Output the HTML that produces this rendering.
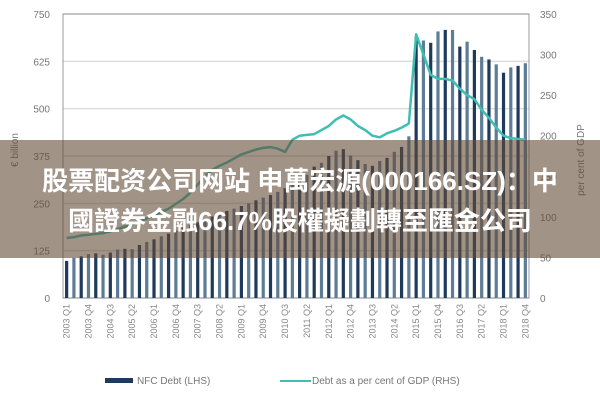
<!DOCTYPE html>
<html><head><meta charset="utf-8"><style>
body{margin:0;width:600px;height:400px;background:#fff;overflow:hidden;position:relative;font-family:"Liberation Sans",sans-serif}
svg{position:absolute;left:0;top:0}
#banner{position:absolute;left:0;top:140px;width:600px;height:118px;background:rgba(100,75,55,0.6);color:#fff;font-family:"Liberation Sans","Noto Sans CJK SC",sans-serif;font-weight:bold;font-size:26px;text-align:center;line-height:40px;padding-top:21px;box-sizing:border-box;white-space:nowrap}
</style></head><body>
<svg id="chart" width="600" height="400"></svg>
<div id="banner">股票配资公司网站 申萬宏源(000166.SZ)：中<br>國證券金融66.7%股權擬劃轉至匯金公司</div>
<script>
const quarters=[];for(let y=2003;y<=2018;y++)for(let q=1;q<=4;q++)quarters.push(y+' Q'+q);
const debtValues=[98,106,110,116,118,114,120,128,130,129,140,148,155,163,170,178,186,193,200,208,215,222,230,236,243,250,258,265,272,280,290,300,312,325,347,357,375,389,393,376,364,354,349,362,370,386,399,427,690,680,674,704,708,708,664,677,655,637,630,617,595,609,613,620];
const gdpValues=[74,75,77,78,79,80,82,85,88,91,94,98,102,106,110,116,122,130,140,150,158,163,167,172,177,180,183,185,186,184,180,195,200,201,202,207,212,220,225,220,212,207,200,198,203,206,210,215,325,300,275,270,270,268,258,250,245,232,222,210,200,197,196,195];
const leftTicks=[0,125,250,375,500,625,750];
const rightTicks=[0,50,100,150,200,250,300,350];
const NS='http://www.w3.org/2000/svg';
const svg=document.getElementById('chart');
const X0=63,X1=529,Y0=298,Y1=14;
const slot=(X1-X0)/quarters.length;
const xs=i=>X0+slot*(i+0.5);
const yL=v=>Y0-(v/750)*(Y0-Y1);
const yR=v=>Y0-(v/350)*(Y0-Y1);
function mk(t,a){const e=document.createElementNS(NS,t);for(const k in a)e.setAttribute(k,a[k]);svg.appendChild(e);return e;}
leftTicks.forEach((v,i)=>{
 const g=mk('line',{x1:X0,x2:X1,y1:yL(v),y2:yL(v),stroke:'#ddd','stroke-width':1.5});
 
 
 const t=mk('text',{x:50,y:yL(v)+4,'text-anchor':'end','font-size':10,fill:'#777'});t.textContent=v;
 
 
});
rightTicks.forEach(v=>{
 const t=mk('text',{x:540,y:yR(v)+4,'font-size':10,fill:'#777'});t.textContent=v;
 
 
});
const fr=mk('rect',{x:X0,y:Y1,width:X1-X0,height:Y0-Y1,fill:'none',stroke:'#999','stroke-width':1});


debtValues.forEach((v,i)=>{
 const b=mk('rect',{x:xs(i)-1.6,y:yL(v),width:3.2,height:Y0-yL(v),fill:i%2?'#5d7c96':'#1e3a5c'});
 
 
});
const ln=mk('polyline',{points:gdpValues.map((v,i)=>xs(i)+','+yR(v)).join(' '),fill:'none',stroke:'#3fbfb1','stroke-width':2.5,'stroke-linejoin':'round'});


quarters.forEach((q,i)=>{if(i%3)return;
 const t=mk('text',{x:0,y:0,'font-size':9,fill:'#888','text-anchor':'end',transform:`translate(${xs(i)+3},304) rotate(-90)`});t.textContent=q;
 
 
});
const yt=mk('text',{x:0,y:0,'font-size':10,fill:'#777','text-anchor':'middle',transform:'translate(18,150) rotate(-90)'});yt.textContent='€ billion';


const yt2=mk('text',{x:0,y:0,'font-size':10,fill:'#777','text-anchor':'middle',transform:'translate(584,160) rotate(-90)'});yt2.textContent='per cent of GDP';


const l1=mk('rect',{x:105,y:378,width:28,height:5,fill:'#1e3a5c'});


const l1t=mk('text',{x:137,y:384,'font-size':10,fill:'#777'});l1t.textContent='NFC Debt (LHS)';


const l2=mk('line',{x1:280,x2:311,y1:381,y2:381,stroke:'#3fbfb1','stroke-width':2});


const l2t=mk('text',{x:312,y:384,'font-size':10,fill:'#777'});l2t.textContent='Debt as a per cent of GDP (RHS)';


</script>
</body></html>
